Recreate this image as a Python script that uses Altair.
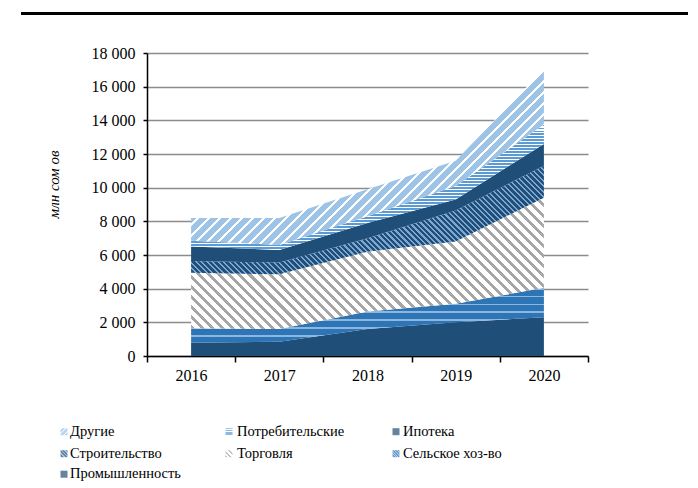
import math
import altair as alt
import pandas as pd

# ---------------- data ----------------
years = [2016, 2017, 2018, 2019, 2020]
series_names = ["Промышленность", "Сельское хоз-во", "Торговля", "Строительство",
                "Ипотека", "Потребительские", "Другие"]  # bottom -> top
prom = [780, 850, 1600, 2000, 2300]
selsk = [870, 750, 1050, 1100, 1750]
torg = [3300, 3250, 3550, 3700, 5350]
stroit = [700, 700, 800, 1850, 1900]
ipoteka = [850, 750, 900, 650, 1300]
potreb = [350, 300, 400, 800, 1150]
drugie = [1350, 1600, 1600, 1500, 3300]
values = [prom, selsk, torg, stroit, ipoteka, potreb, drugie]
legend_order = ["Другие", "Потребительские", "Ипотека", "Строительство",
                "Торговля", "Сельское хоз-во", "Промышленность"]
y_ticks = [0, 2000, 4000, 6000, 8000, 10000, 12000, 14000, 16000, 18000]
y_title = "млн сом ов"

# ---------------- layout ----------------
W_PLOT, H_PLOT = 441, 303
Y_MAX = 18000
PX = H_PLOT / Y_MAX
AREA_W = W_PLOT * 4 / 5
FONT = "'Liberation Serif', 'Times New Roman', 'DejaVu Serif', serif"

rows = []
for i, name in enumerate(series_names):
    for y, v in zip(years, values[i]):
        rows.append({"year": y, "series": name, "idx": i, "value": v})
df = pd.DataFrame(rows)


def grad(kind, c_line, c_bg, W, H, period, frac):
    if kind == "h":
        x1, y1, x2, y2 = 0, 0, 0, 1
        n = H / period
    else:
        k = H / W
        s = (1 + k) / (1 + k * k)
        if kind == "/":
            x1, y1, x2, y2 = 0, 0, s, s * k
        else:
            x1, y1, x2, y2 = 0, 1, s, 1 - s * k
        n = (W + H) / period
    n = max(1, int(round(n)))
    stops = []
    for i in range(n):
        a, b, c = i / n, (i + frac) / n, (i + 1) / n
        stops += [{"offset": round(a, 5), "color": c_line},
                  {"offset": round(b, 5), "color": c_line},
                  {"offset": round(b, 5), "color": c_bg},
                  {"offset": round(c, 5), "color": c_bg}]
    return {"gradient": "linear", "x1": round(x1, 5), "y1": round(y1, 5),
            "x2": round(x2, 5), "y2": round(y2, 5), "stops": stops}


# bbox heights of each band
cum_low = [[0] * len(years)]
for i in range(len(series_names)):
    cum_low.append([a + b for a, b in zip(cum_low[-1], values[i])])
heights = []
for i in range(len(series_names)):
    lo = min(cum_low[i])
    hi = max(cum_low[i + 1])
    heights.append((hi - lo) * PX)

styles = {
    "Промышленность": ("solid", "#1F4E79", None, 0, 0),
    "Сельское хоз-во": ("h", "#8DB6E0", "#2E75B6", 8, 0.22),
    "Торговля": ("\\", "#A6A6A6", "#FFFFFF", 10, 0.4),
    "Строительство": ("\\", "#7EA6D2", "#1F4E79", 5.5, 0.4),
    "Ипотека": ("solid", "#1F4E79", None, 0, 0),
    "Потребительские": ("h", "#5B9BD5", "#FFFFFF", 3, 0.62),
    "Другие": ("/", "#FFFFFF", "#9DC3E6", 11, 0.25),
}
legend_styles = {
    "Промышленность": ("solid", "#1F4E79", None, 0, 0),
    "Сельское хоз-во": ("\\", "#8DB6E0", "#2E75B6", 3, 0.35),
    "Торговля": ("\\", "#A6A6A6", "#FFFFFF", 5, 0.4),
    "Строительство": ("\\", "#7EA6D2", "#1F4E79", 4, 0.35),
    "Ипотека": ("solid", "#1F4E79", None, 0, 0),
    "Потребительские": ("h", "#5B9BD5", "#FFFFFF", 2, 0.6),
    "Другие": ("/", "#FFFFFF", "#9DC3E6", 5, 0.3),
}


def make_fill(style_map, wfun, hfun):
    conds = []
    for i, name in enumerate(series_names):
        kind, c1, c2, per, fr = style_map[name]
        if kind == "solid":
            val = c1
        else:
            val = grad(kind, c1, c2, wfun(i), hfun(i), per, fr)
        conds.append({"test": f"datum.series === '{name}'", "value": val})
    return {"condition": conds, "value": "#1F4E79"}


area_fill = make_fill(styles, lambda i: AREA_W, lambda i: heights[i])
legend_fill = make_fill(legend_styles, lambda i: 7, lambda i: 7)

x_vals = [2015.5, 2016, 2016.5, 2017, 2017.5, 2018, 2018.5, 2019, 2019.5, 2020, 2020.5]

areas = alt.Chart(df).mark_area(strokeWidth=0).encode(
    x=alt.X("year:Q",
            scale=alt.Scale(domain=[2015.5, 2020.5], nice=False, zero=False),
            axis=alt.Axis(values=x_vals, title=None, grid=False,
                          labelExpr="datum.value % 1 == 0 ? format(datum.value, 'd') : ''",
                          labelFlush=False, labelOverlap=False,
                          tickOpacity=alt.condition("datum.value % 1 != 0", alt.value(1), alt.value(0)),
                          tickSize=6, tickColor="black", tickWidth=1.5,
                          domainColor="black", domainWidth=1.5,
                          labelFont=FONT, labelFontSize=16, labelColor="black",
                          labelPadding=5)),
    y=alt.Y("value:Q", stack="zero",
            scale=alt.Scale(domain=[0, Y_MAX], nice=False),
            axis=alt.Axis(values=y_ticks, title=y_title,
                          labelExpr="replace(format(datum.value, ',d'), ',', ' ')",
                          grid=True, gridColor="#8c8c8c", gridWidth=1.3,
                          tickSize=4, tickColor="black", tickWidth=1.5,
                          domainColor="black", domainWidth=1.5,
                          labelFont=FONT, labelFontSize=16, labelColor="black",
                          labelPadding=8,
                          titleFont=FONT, titleFontSize=15, titleFontStyle="italic",
                          titleFontWeight="normal", titleColor="black",
                          titleX=-94, titleY=131, titleBaseline="middle")),
    detail="series:N",
    order=alt.Order("idx:Q", sort="ascending"),
    fill=area_fill,
)

# custom legend
col_marker = [-83, 82, 249]
col_text = [-77, 90, 256]
row_y = [378.7, 400.7, 421.2]
leg_rows = []
for k, name in enumerate(legend_order):
    c, r = k % 3, k // 3
    leg_rows.append({"series": name, "mx": col_marker[c], "tx": col_text[c], "ly": row_y[r]})
leg_df = pd.DataFrame(leg_rows)

leg_sym = alt.Chart(leg_df).mark_square(size=49, strokeWidth=0).encode(
    x=alt.X("mx:Q", scale=None, axis=None),
    y=alt.Y("ly:Q", scale=None, axis=None),
    fill=legend_fill,
)
leg_txt = alt.Chart(leg_df).mark_text(align="left", baseline="middle", font=FONT,
                                      fontSize=14.5, color="black").encode(
    x=alt.X("tx:Q", scale=None, axis=None),
    y=alt.Y("ly:Q", scale=None, axis=None),
    text="series:N",
)

top_rule = alt.Chart(pd.DataFrame({"a": [0]})).mark_rule(color="black", strokeWidth=3).encode(
    x=alt.value(-126), x2=alt.value(551), y=alt.value(-39.5)
)

chart = alt.layer(areas, leg_sym, leg_txt, top_rule).resolve_scale(
    x="independent", y="independent"
).properties(
    width=W_PLOT, height=H_PLOT,
    autosize=alt.AutoSizeParams(type="none"),
    padding={"left": 139, "top": 45, "right": 100, "bottom": 131},
).configure_view(strokeWidth=0)

chart.save("out.html", embed_options={"renderer": "svg", "actions": False})
